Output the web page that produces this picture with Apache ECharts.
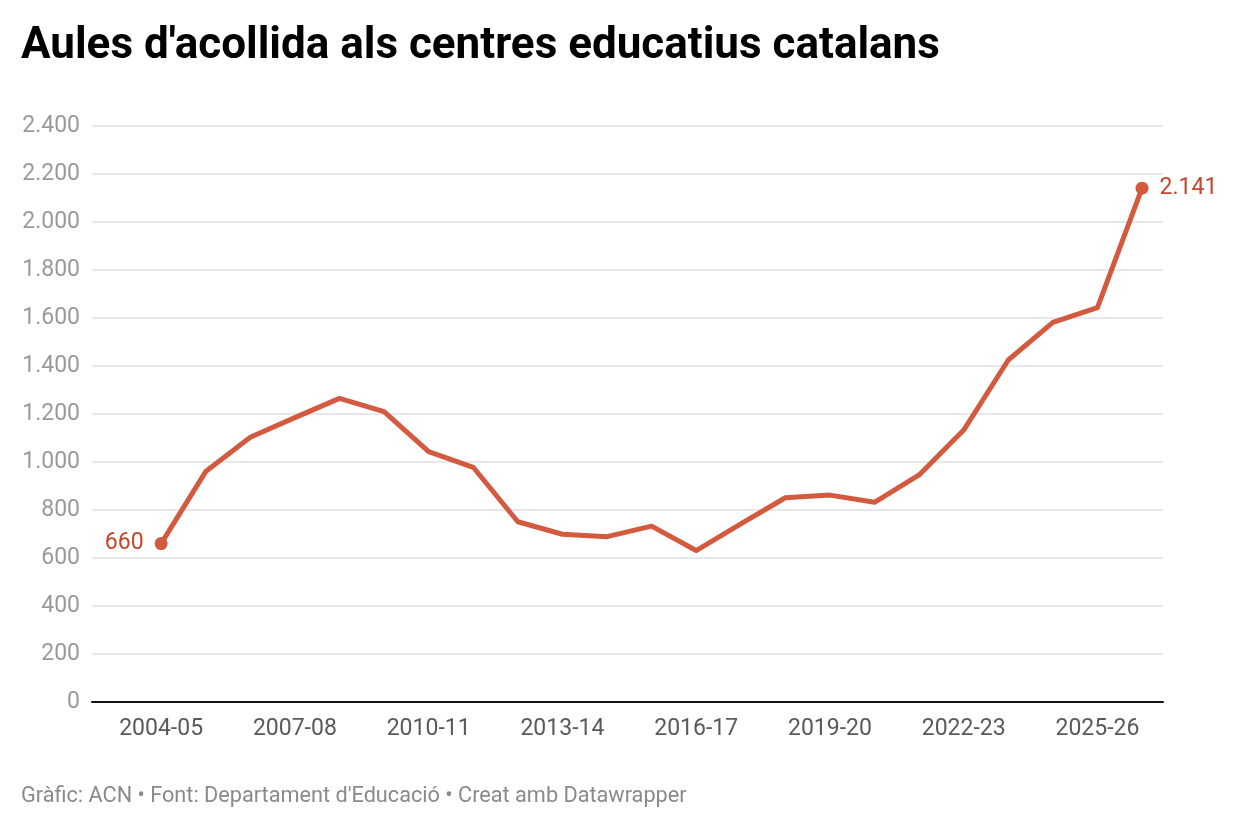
<!DOCTYPE html>
<html>
<head>
	<meta charset="utf-8">
	<title>Aules d'acollida</title>
	<script src="https://cdn.jsdelivr.net/npm/echarts@6/dist/echarts.min.js"></script>
	<style>
		body { margin: 0; background: #fff; }
		#main { width: 1240px; height: 828px; }
	</style>
</head>
<body>
	<div id="main"></div>
	<script type="text/javascript">
	var seasons = ['2004-05', '2005-06', '2006-07', '2007-08', '2008-09', '2009-10', '2010-11', '2011-12',
		'2012-13', '2013-14', '2014-15', '2015-16', '2016-17', '2017-18', '2018-19', '2019-20',
		'2020-21', '2021-22', '2022-23', '2023-24', '2024-25', '2025-26', '2026-27'];
	var aules = [660, 960, 1103, 1185, 1265, 1210, 1043, 978, 751, 699, 689, 733, 631, 742,
		851, 862, 832, 946, 1133, 1425, 1582, 1643, 2141];
	var tickIndexes = [0, 3, 6, 9, 12, 15, 18, 21];

	var lineColor = '#d35a3e';
	var labelColor = '#c4472c';

	function fmt(n) {
		return String(n).replace(/\B(?=(\d{3})+(?!\d))/g, '.');
	}

	var last = aules.length - 1;
	var data = aules.map(function (v, i) {
		var item = { value: [i, v] };
		if (i === 0 || i === last) {
			item.symbolSize = 13;
			item.label = {
				show: true,
				position: i === 0 ? 'left' : 'right',
				distance: 11,
				formatter: fmt(v),
				color: labelColor,
				fontSize: 23,
				fontFamily: 'Roboto'
			};
		}
		return item;
	});

	var myChart = echarts.init(document.getElementById('main'));

	var option = {
		animation: false,
		title: [{
			text: "Aules d'acollida als centres educatius catalans",
			left: 16,
			top: 20,
			textStyle: { fontFamily: 'Roboto', fontWeight: 'bold', fontSize: 44, color: '#000' }
		}, {
			text: "Gràfic: ACN • Font: Departament d'Educació • Creat amb Datawrapper",
			left: 16,
			top: 781,
			textStyle: { fontFamily: 'Roboto', fontWeight: 'normal', fontSize: 21.7, color: '#8a8a8a' }
		}],
		grid: { left: 92, right: 77, top: 126, bottom: 126, containLabel: false },
		xAxis: {
			type: 'value',
			min: -1.55,
			max: 22.47,
			axisLine: { show: true, onZero: false, lineStyle: { color: '#111', width: 2 } },
			axisTick: { show: false },
			splitLine: { show: false },
			axisLabel: {
				customValues: tickIndexes,
				formatter: function (v) { return seasons[Math.round(v)]; },
				color: '#5a5a5a',
				fontSize: 23,
				fontFamily: 'Roboto',
				margin: 16
			}
		},
		yAxis: {
			type: 'value',
			min: 0,
			max: 2400,
			interval: 200,
			axisLine: { show: false },
			axisTick: { show: false },
			splitLine: { lineStyle: { color: '#e1e1e1', width: 1.5 } },
			axisLabel: {
				formatter: function (v) { return fmt(v); },
				color: '#9a9a9a',
				fontSize: 23,
				fontFamily: 'Roboto',
				margin: 12
			}
		},
		series: [{
			type: 'line',
			data: data,
			symbol: 'circle',
			symbolSize: 0,
			showAllSymbol: true,
			itemStyle: { color: lineColor },
			lineStyle: { color: lineColor, width: 5, join: 'round' },
			z: 3
		}]
	};

	myChart.setOption(option);
	</script>
</body>
</html>
